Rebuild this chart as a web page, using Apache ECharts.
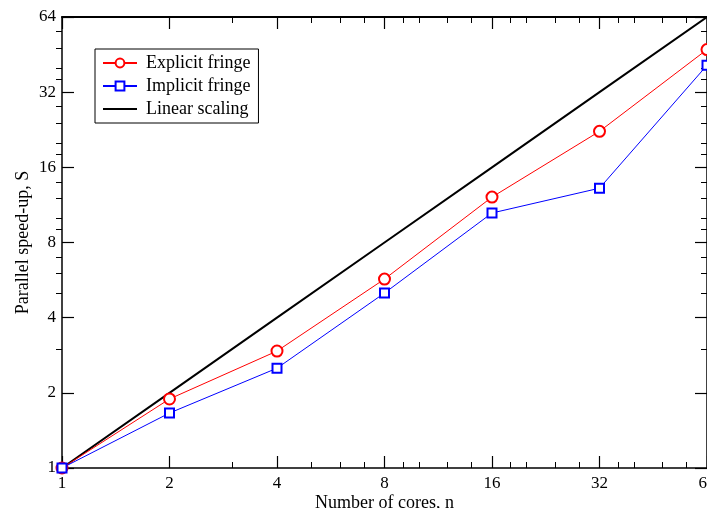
<!DOCTYPE html>
<html>
<head>
<meta charset="utf-8">
<style>
  html, body { margin: 0; padding: 0; background: #fff; }
  #chart { width: 707px; height: 508px; }
</style>
<script src="https://cdn.jsdelivr.net/npm/echarts@6/dist/echarts.min.js"></script>
</head>
<body>
<div id="chart"></div>
<script>
// Core counts (x) and measured parallel speed-ups (y)
const cores = [1, 2, 4, 8, 16, 32, 64];
const explicitFringe = [1, 1.89, 2.94, 5.71, 12.16, 22.3, 47.4];
const implicitFringe = [1, 1.66, 2.51, 5.02, 10.5, 13.2, 41.0];
const linearScaling = [1, 2, 4, 8, 16, 32, 64];

// Minor tick values between the powers of two
const minorTickValues = [3, 5, 6, 7, 9, 10, 12, 14, 18, 20, 24, 28, 36, 40, 48, 56];
const axisMin = 1;
const axisMax = 64;

const FONT = 'Liberation Serif';
const pairs = (xs, ys) => xs.map((x, i) => [x, ys[i]]);
const minorExp = minorTickValues.map(v => Math.log2(v));
const expMax = Math.log2(axisMax);

function logAxis(position, extra) {
  return Object.assign({
    type: 'log',
    logBase: 2,
    min: axisMin,
    max: axisMax,
    position: position,
    offset: 0,
    axisLine: { show: true, onZero: false, lineStyle: { color: '#000', width: 1.5 } },
    axisTick: { show: true, inside: true, length: 12, lineStyle: { color: '#000', width: 1.2 } },
    axisLabel: { show: false },
    splitLine: { show: false },
    minorTick: { show: false },
    minorSplitLine: { show: false }
  }, extra || {});
}

// Tick-only axis in exponent space, used for the short minor ticks
function minorAxis(position, inside) {
  return {
    type: 'value',
    min: 0,
    max: expMax,
    position: position,
    offset: 0,
    axisLine: { show: true, onZero: false, lineStyle: { color: '#000', width: 0, opacity: 0 } },
    axisTick: { show: true, inside: inside, length: 6, customValues: minorExp, lineStyle: { color: '#000', width: 1 } },
    axisLabel: { show: false },
    splitLine: { show: false }
  };
}

const labelStyle = { show: true, color: '#000', fontFamily: FONT, fontSize: 17 };
const nameStyle = { color: '#000', fontFamily: FONT, fontSize: 18 };

const chart = echarts.init(document.getElementById('chart'), null, { renderer: 'canvas' });
chart.setOption({
  animation: false,
  backgroundColor: '#fff',
  grid: { left: 62, right: 0, top: 17, bottom: 40, containLabel: false, outerBoundsMode: 'none' },
  legend: {
    orient: 'vertical',
    left: 95,
    top: 49,
    padding: [5, 8, 5, 7],
    itemGap: 5,
    itemWidth: 34,
    itemHeight: 11,
    borderColor: '#000',
    borderWidth: 1,
    backgroundColor: '#fff',
    textStyle: { color: '#000', fontFamily: FONT, fontSize: 18, lineHeight: 18, padding: [0, 0, 0, 4] },
    data: [
      'Explicit fringe',
      'Implicit fringe',
      { name: 'Linear scaling', itemStyle: { opacity: 0 } }
    ]
  },
  xAxis: [
    logAxis('bottom', {
      name: 'Number of cores, n',
      nameLocation: 'middle',
      nameGap: 26,
      nameMoveOverlap: false,
      nameTextStyle: nameStyle,
      axisLabel: Object.assign({ margin: 7 }, labelStyle)
    }),
    logAxis('top', { axisLine: { show: true, onZero: false, lineStyle: { color: '#000', width: 2 } } }),
    minorAxis('bottom', true),
    minorAxis('top', true)
  ],
  yAxis: [
    logAxis('left', {
      name: 'Parallel speed-up, S',
      nameLocation: 'middle',
      nameGap: 30,
      nameMoveOverlap: false,
      nameTextStyle: nameStyle,
      axisLabel: Object.assign({ margin: 6 }, labelStyle)
    }),
    logAxis('right'),
    minorAxis('left', false),
    minorAxis('right', true)
  ],
  series: [
    {
      name: 'Explicit fringe',
      type: 'line',
      data: pairs(cores, explicitFringe),
      symbol: 'emptyCircle',
      symbolSize: 11,
      lineStyle: { color: '#ff0000', width: 1 },
      itemStyle: { color: '#ff0000', borderColor: '#ff0000', borderWidth: 1 },
      z: 3
    },
    {
      name: 'Implicit fringe',
      type: 'line',
      data: pairs(cores, implicitFringe),
      symbol: 'emptyRect',
      symbolSize: 9,
      lineStyle: { color: '#0000ff', width: 1 },
      itemStyle: { color: '#0000ff', borderColor: '#0000ff', borderWidth: 1 },
      z: 3
    },
    {
      name: 'Linear scaling',
      type: 'line',
      data: pairs(cores, linearScaling),
      symbol: 'none',
      lineStyle: { color: '#000', width: 2 },
      itemStyle: { color: '#000' },
      z: 2
    }
  ]
});
</script>
</body>
</html>
